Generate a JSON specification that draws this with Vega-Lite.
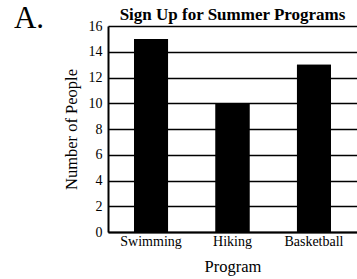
{
  "$schema": "https://vega.github.io/schema/vega-lite/v6.json",
  "width": 249,
  "height": 206,
  "autosize": "none",
  "padding": {"left": 108, "top": 26, "right": 0, "bottom": 47},
  "background": "white",
  "config": {
    "font": "Liberation Serif",
    "view": {"stroke": null},
    "axis": {"labelColor": "black", "titleColor": "black", "titleFontWeight": "normal", "labelFont": "Liberation Serif", "titleFont": "Liberation Serif"}
  },
  "title": {
    "text": "Sign Up for Summer Programs",
    "font": "Liberation Serif",
    "fontSize": 17,
    "fontWeight": "bold",
    "color": "black",
    "anchor": "middle",
    "frame": "group",
    "offset": -22
  },
  "data": {
    "values": [
      {"Program": "Swimming", "People": 15},
      {"Program": "Hiking", "People": 10},
      {"Program": "Basketball", "People": 13}
    ]
  },
  "encoding": {
    "y": {
      "field": "People",
      "type": "quantitative",
      "scale": {"domain": [0, 16], "nice": false},
      "axis": {
        "title": "Number of People",
        "values": [0, 2, 4, 6, 8, 10, 12, 14, 16],
        "labelOverlap": false,
        "labelFontSize": 14,
        "labelPadding": 6,
        "ticks": false,
        "domainColor": "black",
        "domainWidth": 2,
        "grid": true,
        "gridColor": "black",
        "gridWidth": 1.6,
        "gridOpacity": 1,
        "titleFontSize": 16.5,
        "titlePadding": 9
      }
    }
  },
  "layer": [
    {
      "mark": {"type": "bar", "color": "black"},
      "encoding": {
        "x": {
          "field": "Program",
          "type": "nominal",
          "sort": null,
          "scale": {"paddingInner": 0.583, "paddingOuter": 0.32},
          "axis": {
            "title": "Program",
            "labelAngle": 0,
            "labelFontSize": 14,
            "labelPadding": 2,
            "ticks": false,
            "domainColor": "black",
            "domainWidth": 2,
            "titleFontSize": 16.5,
            "titlePadding": 10
          }
        }
      }
    },
    {
      "mark": {"type": "bar", "color": "black"},
      "encoding": {
        "x": {
          "field": "Program",
          "type": "nominal",
          "sort": null,
          "axis": {
            "orient": "top",
            "title": "A.",
            "labels": false,
            "ticks": false,
            "domain": false,
            "grid": false,
            "titleFontSize": 31,
            "titleX": -79.5,
            "titleY": 1,
            "titleAnchor": "start",
            "titleAlign": "center",
            "titleBaseline": "alphabetic"
          }
        }
      }
    }
  ],
  "resolve": {"axis": {"x": "independent"}}
}
